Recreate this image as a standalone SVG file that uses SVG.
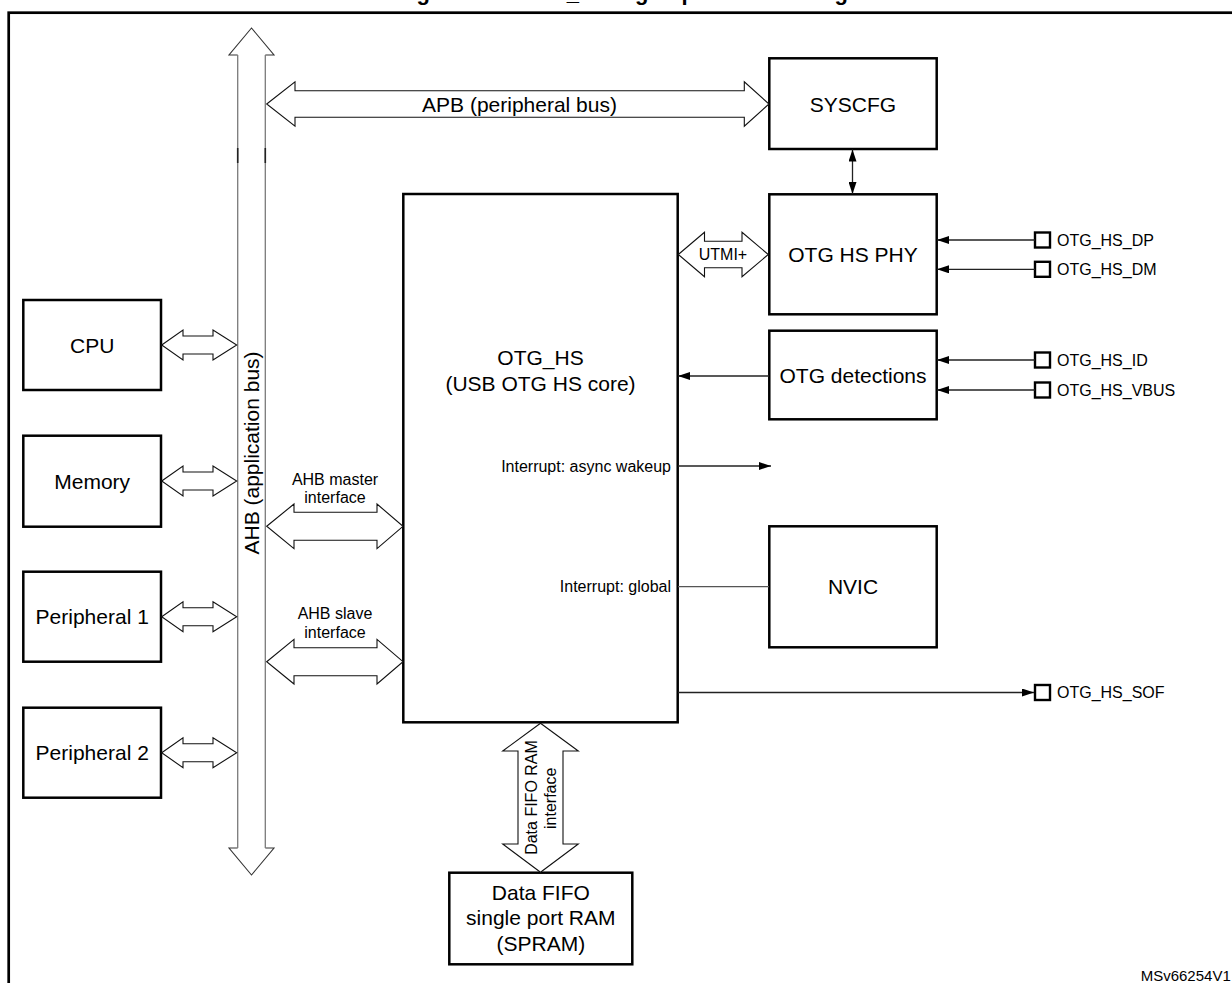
<svg xmlns="http://www.w3.org/2000/svg" width="1232" height="983" viewBox="0 0 1232 983">
<defs>
<style>
.box{fill:#fff;stroke:#000;stroke-width:2.5}
.dbl{fill:#fff;stroke:#111;stroke-width:1.1}
.bus{fill:none;stroke:#7a7a7a;stroke-width:1.3}
.bushead{fill:#fff;stroke:#333;stroke-width:1.1}
.ln{fill:none;stroke:#222;stroke-width:1.3}
.gl{fill:none;stroke:#555;stroke-width:1.3}
.pin{fill:#fff;stroke:#000;stroke-width:2.4}
text{font-family:"Liberation Sans",Arial,sans-serif;fill:#000}
.big{font-size:21px;text-anchor:middle}
.sm{font-size:16px}
.smc{font-size:16px;text-anchor:middle}
.title{font-size:22px;font-weight:bold}
</style>
<marker id="ah" viewBox="0 0 12 8" markerUnits="userSpaceOnUse" markerWidth="12" markerHeight="8" refX="12" refY="4" orient="auto-start-reverse">
<path d="M0,0 L12,4 L0,8 z" fill="#000"/>
</marker>
</defs>
<rect width="1232" height="983" fill="#fff"/>

<text class="title" y="-0.3"><tspan x="397">Figure</tspan><tspan x="519">OTG_HS high-speed block diagram</tspan></text>

<rect x="8.7" y="12.7" width="1300" height="1100" fill="none" stroke="#000" stroke-width="2.7"/>

<g id="ahb-bus">
<path class="bushead" d="M237.7,55 L229,55 L251.5,28 L274,55 L265.3,55"/>
<path class="bushead" d="M237.7,848 L229,848 L251.5,875 L274,848 L265.3,848"/>
<line class="bus" x1="237.7" y1="55" x2="237.7" y2="848"/>
<line class="bus" x1="265.3" y1="55" x2="265.3" y2="848"/>
<line x1="237.7" y1="148" x2="237.7" y2="163" stroke="#222" stroke-width="1.6"/>
<line x1="265.3" y1="148" x2="265.3" y2="163" stroke="#222" stroke-width="1.6"/>
<text class="big" transform="translate(259,453) rotate(-90)">AHB (application bus)</text>
</g>

<g id="cpu"><rect class="box" x="23.3" y="300" width="137.7" height="90"/><text class="big" x="92.2" y="352.5">CPU</text></g>
<g id="memory"><rect class="box" x="23.3" y="435.7" width="137.7" height="91"/><text class="big" x="92.2" y="488.6">Memory</text></g>
<g id="peripheral1"><rect class="box" x="23.3" y="571.7" width="137.7" height="90"/><text class="big" x="92.2" y="624">Peripheral 1</text></g>
<g id="peripheral2"><rect class="box" x="23.3" y="707.7" width="137.7" height="90"/><text class="big" x="92.2" y="760">Peripheral 2</text></g>

<g id="otg-hs-core"><rect class="box" x="403.3" y="194" width="274.4" height="528.3"/>
<text class="big" x="540.5" y="364.5">OTG_HS</text>
<text class="big" x="540.5" y="390.5">(USB OTG HS core)</text>
<text class="sm" x="671" y="471.7" text-anchor="end">Interrupt: async wakeup</text>
<text class="sm" x="671" y="592.4" text-anchor="end">Interrupt: global</text>
</g>

<g id="syscfg"><rect class="box" x="769.3" y="58.3" width="167.4" height="90.7"/><text class="big" x="853" y="111.6">SYSCFG</text></g>
<g id="otg-hs-phy"><rect class="box" x="769.3" y="194.3" width="167.4" height="120"/><text class="big" x="853" y="262">OTG HS PHY</text></g>
<g id="otg-detections"><rect class="box" x="769.3" y="330.7" width="167.4" height="88.6"/><text class="big" x="853" y="382.6">OTG detections</text></g>
<g id="nvic"><rect class="box" x="769.3" y="526.3" width="167.4" height="121"/><text class="big" x="853" y="594.3">NVIC</text></g>
<g id="data-fifo"><rect class="box" x="449.3" y="872.7" width="183" height="91.6"/>
<text class="big" x="540.8" y="900">Data FIFO</text>
<text class="big" x="540.8" y="925">single port RAM</text>
<text class="big" x="540.8" y="950.5">(SPRAM)</text>
</g>

<g id="pins">
<rect class="pin" x="1035" y="232.5" width="15" height="15"/><text class="sm" x="1057" y="245.7">OTG_HS_DP</text>
<rect class="pin" x="1035" y="261.8" width="15" height="15"/><text class="sm" x="1057" y="275">OTG_HS_DM</text>
<rect class="pin" x="1035" y="352.5" width="15" height="15"/><text class="sm" x="1057" y="365.7">OTG_HS_ID</text>
<rect class="pin" x="1035" y="382.5" width="15" height="15"/><text class="sm" x="1057" y="395.7">OTG_HS_VBUS</text>
<rect class="pin" x="1035" y="685" width="15" height="15"/><text class="sm" x="1057" y="698">OTG_HS_SOF</text>
</g>

<g id="connectors">
<polygon class="dbl" points="161.7,345 183,330 183,336 213,336 213,330 236.7,345 213,360 213,354 183,354 183,360"/>
<polygon class="dbl" points="161.7,481 183,466 183,472 213,472 213,466 236.7,481 213,496 213,490 183,490 183,496"/>
<polygon class="dbl" points="161.7,616.7 183,601.7 183,607.7 213,607.7 213,601.7 236.7,616.7 213,631.7 213,625.7 183,625.7 183,631.7"/>
<polygon class="dbl" points="161.7,752.7 183,737.7 183,743.7 213,743.7 213,737.7 236.7,752.7 213,767.7 213,761.7 183,761.7 183,767.7"/>
<polygon class="dbl" points="266.7,526.3 294,504 294,512.3 377,512.3 377,504 403,526.3 377,548.6 377,540.3 294,540.3 294,548.6"/>
<polygon class="dbl" points="266.7,661.7 294,639.4 294,647.7 377,647.7 377,639.4 403,661.7 377,684 377,675.7 294,675.7 294,684"/>
<text class="smc" x="335" y="484.5">AHB master</text>
<text class="smc" x="335" y="502.7">interface</text>
<text class="smc" x="335" y="619.3">AHB slave</text>
<text class="smc" x="335" y="637.7">interface</text>
<polygon class="dbl" points="266.7,104 295,81.8 295,90.7 744.3,90.7 744.3,81.8 769,104 744.3,126.2 744.3,117.3 295,117.3 295,126.2"/>
<text class="big" x="519.5" y="111.5">APB (peripheral bus)</text>
<polygon class="dbl" points="678.3,254.5 704.5,232.3 704.5,241.2 742,241.2 742,232.3 768.3,254.5 742,276.7 742,267.8 704.5,267.8 704.5,276.7"/>
<text class="smc" x="723" y="260">UTMI+</text>
<polygon class="dbl" points="540.5,723.3 578.3,751 563,751 563,844 578.3,844 540.5,872.3 502.7,844 518,844 518,751 502.7,751"/>
<text class="smc" transform="translate(537,797.5) rotate(-90)">Data FIFO RAM</text>
<text class="smc" transform="translate(556,798.3) rotate(-90)">interface</text>
<line class="ln" x1="852.5" y1="149.5" x2="852.5" y2="194" marker-start="url(#ah)" marker-end="url(#ah)"/>
<line class="ln" x1="1035" y1="240" x2="937" y2="240" marker-end="url(#ah)"/>
<line class="ln" x1="1035" y1="269.3" x2="937" y2="269.3" marker-end="url(#ah)"/>
<line class="ln" x1="1035" y1="360" x2="937" y2="360" marker-end="url(#ah)"/>
<line class="ln" x1="1035" y1="390" x2="937" y2="390" marker-end="url(#ah)"/>
<line class="ln" x1="769" y1="376" x2="678" y2="376" marker-end="url(#ah)"/>
<line class="ln" x1="678" y1="466" x2="771" y2="466" marker-end="url(#ah)"/>
<line class="gl" x1="678" y1="586.7" x2="769" y2="586.7"/>
<line class="ln" x1="678" y1="692.5" x2="1034" y2="692.5" marker-end="url(#ah)"/>
</g>

<text x="1140.7" y="980.5" font-size="15">MSv66254V1</text>
</svg>
